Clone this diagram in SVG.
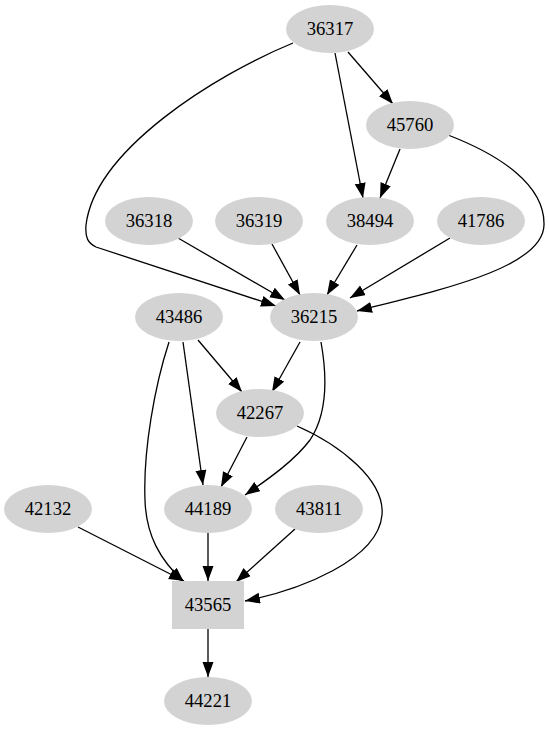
<svg xmlns="http://www.w3.org/2000/svg" width="549" height="731" viewBox="0 0 549 731">
<defs>
<marker id="ah" markerUnits="userSpaceOnUse" markerWidth="16" markerHeight="12" refX="15" refY="5.5" orient="auto">
<path d="M0,0 L15,5.5 L0,11 z" fill="#000"/>
</marker>
<style>
.n ellipse, .n rect { fill: #d3d3d3; stroke: none; }
.n text { font-family: "Liberation Serif", "Times New Roman", serif; font-size: 18.67px; fill: #000; text-anchor: middle; }
.e path { fill: none; stroke: #000; stroke-width: 1.3; marker-end: url(#ah); }
</style>
</defs>
<rect width="549" height="731" fill="#fff"/>
<g id="edges" class="e">
<path d="M348,52 L393,104"/>
<path d="M335,53 L363,198"/>
<path d="M400,149 L380,198"/>
<path d="M448,135 C500,155 545,185 544,225 C543,268 440,290 357,311"/>
<path d="M293,43 C215,75 95,150 86,225 C85,238 88,243 96,247 L276,306"/>
<path d="M178,238 L285,300"/>
<path d="M272,244 L300,295"/>
<path d="M357,245 L327,295"/>
<path d="M450,238 L350,298"/>
<path d="M198,340 L242,392"/>
<path d="M300,342 L272,392"/>
<path d="M183,342 L203,485"/>
<path d="M247,437 L221,487"/>
<path d="M321,342 C326,370 330,410 310,440 C295,460 270,478 245,495"/>
<path d="M169,342 C155,385 143,450 145,500 C146,535 160,560 184,582"/>
<path d="M297,426 C340,445 385,480 382,515 C378,560 300,590 245,601"/>
<path d="M78,527 L184,581"/>
<path d="M208,533 L208,581"/>
<path d="M295,529 L236,582"/>
<path d="M208,629 L208,677"/>
</g>
<g id="n36317" class="n"><ellipse cx="330" cy="29" rx="44" ry="24"/><text x="330" y="35">36317</text></g>
<g id="n45760" class="n"><ellipse cx="410" cy="125" rx="44" ry="24"/><text x="410" y="131">45760</text></g>
<g id="n36318" class="n"><ellipse cx="149" cy="221" rx="44" ry="24"/><text x="149" y="227">36318</text></g>
<g id="n36319" class="n"><ellipse cx="259" cy="221" rx="44" ry="24"/><text x="259" y="227">36319</text></g>
<g id="n38494" class="n"><ellipse cx="370" cy="221" rx="44" ry="24"/><text x="370" y="227">38494</text></g>
<g id="n41786" class="n"><ellipse cx="481" cy="221" rx="44" ry="24"/><text x="481" y="227">41786</text></g>
<g id="n43486" class="n"><ellipse cx="179" cy="317" rx="44" ry="24"/><text x="179" y="323">43486</text></g>
<g id="n36215" class="n"><ellipse cx="314" cy="317" rx="44" ry="24"/><text x="314" y="323">36215</text></g>
<g id="n42267" class="n"><ellipse cx="260" cy="413" rx="44" ry="24"/><text x="260" y="419">42267</text></g>
<g id="n42132" class="n"><ellipse cx="48" cy="509" rx="44" ry="24"/><text x="48" y="515">42132</text></g>
<g id="n44189" class="n"><ellipse cx="208" cy="509" rx="44" ry="24"/><text x="208" y="515">44189</text></g>
<g id="n43811" class="n"><ellipse cx="319" cy="509" rx="44" ry="24"/><text x="319" y="515">43811</text></g>
<g id="n43565" class="n"><rect x="172" y="581" width="72" height="48"/><text x="208" y="611">43565</text></g>
<g id="n44221" class="n"><ellipse cx="208" cy="701" rx="44" ry="24"/><text x="208" y="707">44221</text></g>
</svg>
